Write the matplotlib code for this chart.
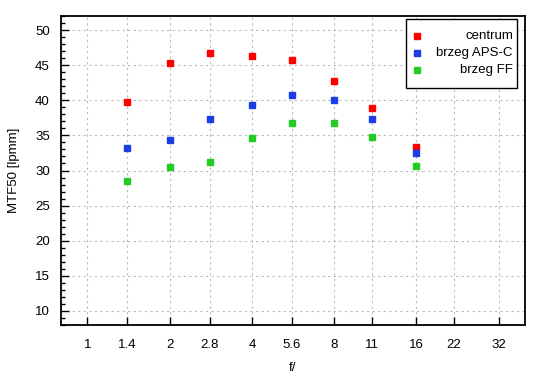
import matplotlib
matplotlib.use("Agg")
import matplotlib.pyplot as plt
from matplotlib.ticker import FixedLocator, FixedFormatter, MultipleLocator, NullLocator
from matplotlib.patches import Rectangle

plt.rcParams['font.family'] = ['Liberation Sans', 'DejaVu Sans']

f_labels = ["1", "1.4", "2", "2.8", "4", "5.6", "8", "11", "16", "22", "32"]
f_ticks = [1, 1.4, 2, 2.8, 4, 5.6, 8, 11, 16, 22, 32]

apertures = [1.4, 2, 2.8, 4, 5.6, 8, 11, 16]
centrum = [39.8, 45.25, 46.7, 46.25, 45.7, 42.8, 38.85, 33.4]
brzeg_apsc = [33.15, 34.4, 37.4, 39.3, 40.7, 40.1, 37.3, 32.5]
brzeg_ff = [28.45, 30.45, 31.15, 34.6, 36.7, 36.7, 34.7, 30.65]

series = [("centrum", centrum, "#ff0000"),
          ("brzeg APS-C", brzeg_apsc, "#1a3de6"),
          ("brzeg FF", brzeg_ff, "#22cc22")]

FS = 9.5

fig = plt.figure(figsize=(5.5, 3.8), dpi=100)
ax = fig.add_axes([61/550, 1-325/380, (525-61)/550, (325-16)/380])

for name, vals, col in series:
    ax.plot(apertures, vals, linestyle='none', marker='s', markersize=5,
            markerfacecolor=col, markeredgecolor=col, zorder=3)

ax.set_xscale('log')
ax.set_xlim(0.8, 40)
ax.set_ylim(8, 52)
ax.xaxis.set_major_locator(FixedLocator(f_ticks))
ax.xaxis.set_major_formatter(FixedFormatter(f_labels))
ax.xaxis.set_minor_locator(NullLocator())
ax.yaxis.set_major_locator(MultipleLocator(5))
ax.yaxis.set_minor_locator(MultipleLocator(1))
ax.set_yticks([10, 15, 20, 25, 30, 35, 40, 45, 50])

ax.tick_params(axis='both', which='major', direction='in', length=6, width=1,
               labelsize=FS, pad=8, colors='black')
ax.tick_params(axis='x', which='major', pad=10)
ax.tick_params(axis='y', which='minor', direction='in', length=3, width=1)
ax.tick_params(top=False, right=False)

ax.grid(True, which='major', linestyle=(0, (2, 3)), color='#bbbbbb', linewidth=0.8)
ax.set_axisbelow(True)
for sp in ax.spines.values():
    sp.set_linewidth(1.3)
    sp.set_color('black')

ax.set_xlabel("f/", fontsize=FS, labelpad=8)
ax.set_ylabel("MTF50 [lpmm]", fontsize=FS, labelpad=11)

# legend box
x0, x1 = (406-61)/464, (517-61)/464
y0, y1 = (325-88)/309, (325-19)/309
ax.add_patch(Rectangle((x0, y0), x1-x0, y1-y0, transform=ax.transAxes,
                       facecolor='white', edgecolor='black', linewidth=1, zorder=5))
ys = [(325-36)/309, (325-53)/309, (325-70)/309]
for (name, vals, col), yy in zip(series, ys):
    ax.plot([(417-61)/464], [yy], transform=ax.transAxes, linestyle='none', marker='s',
            markersize=5, markerfacecolor=col, markeredgecolor=col, zorder=6, clip_on=False)
    ax.text((513-61)/464, yy, name, transform=ax.transAxes, ha='right', va='center',
            fontsize=FS, zorder=6)

fig.savefig("out.png", dpi=100)
